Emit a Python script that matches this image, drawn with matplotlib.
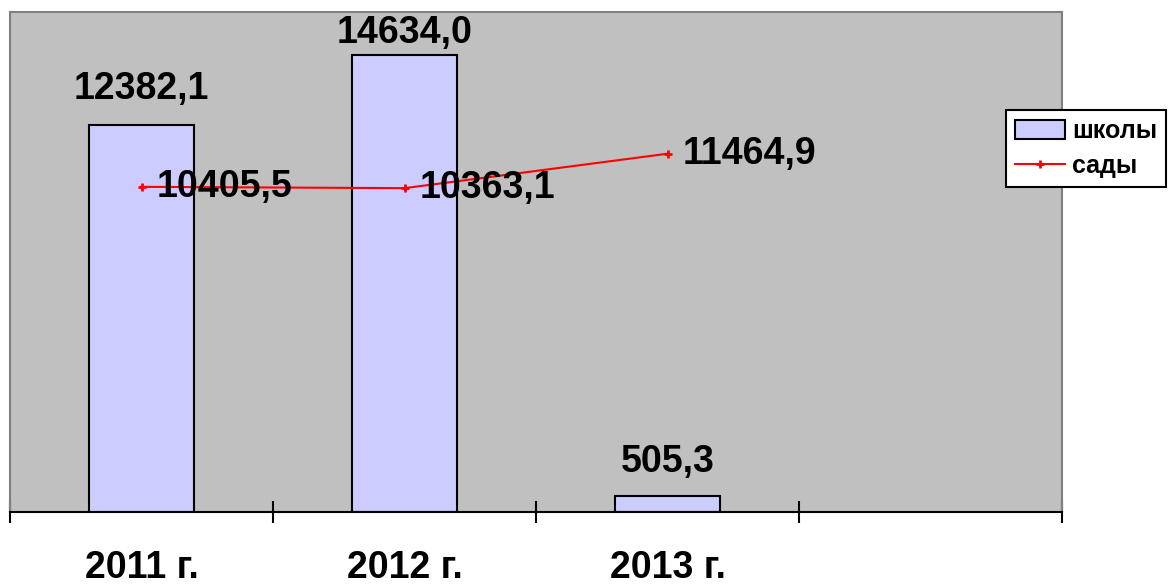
import matplotlib.pyplot as plt
from matplotlib.lines import Line2D
from matplotlib.patches import Patch

# data
years = ['2011 г.', '2012 г.', '2013 г.']
schools = [12382.1, 14634.0, 505.3]
kindergartens = [10405.5, 10363.1, 11464.9]
series_names = ['школы', 'сады']

plt.rcParams['font.family'] = ['Liberation Sans', 'DejaVu Sans']
plt.rcParams['font.weight'] = 'bold'

fig = plt.figure(figsize=(11.69, 5.84), dpi=100)
ax = fig.add_axes([10/1169, 72/584, 1052/1169, 500/584])
ax.set_facecolor('#C0C0C0')

x = list(range(len(years)))
ax.bar(x, schools, width=0.4, color='#CCCCFF', edgecolor='black', linewidth=1.5, zorder=2)
ax.plot(x, kindergartens, color='red', linewidth=1.5, marker='+', markersize=6,
        markeredgewidth=2, zorder=3)

def fmt(v):
    return f'{v:.1f}'.replace('.', ',')

# bar labels (Excel keeps the tallest one inside the plot area)
bar_offsets = [26, 12, 24]
for xi, v, off in zip(x, schools, bar_offsets):
    ax.annotate(fmt(v), (xi, v), xytext=(0, off), textcoords='offset pixels',
                ha='center', va='baseline', fontsize=27, fontweight='bold', zorder=4)

for xi, v in zip(x, kindergartens):
    ax.annotate(fmt(v), (xi, v), xytext=(15, 0), textcoords='offset pixels',
                ha='left', va='center', fontsize=27, fontweight='bold', zorder=4)

ax.set_xlim(-0.5, 3.5)
ax.set_ylim(0, 16000)
ax.set_yticks([])

# category boundary ticks, labels at the centres
ax.set_xticks([-0.5, 0.5, 1.5, 2.5, 3.5])
ax.set_xticklabels([])
ax.tick_params(axis='x', which='major', direction='inout', length=16, width=1.5, color='black')
ax.set_xticks(x, minor=True)
ax.set_xticklabels(years, minor=True, fontsize=27, fontweight='bold')
ax.tick_params(axis='x', which='minor', length=0, pad=27)

for side in ['left', 'top', 'right']:
    ax.spines[side].set_color('#808080')
    ax.spines[side].set_linewidth(1.5)
ax.spines['bottom'].set_color('black')
ax.spines['bottom'].set_linewidth(1.5)

handles = [Patch(facecolor='#CCCCFF', edgecolor='black', linewidth=1.5),
           Line2D([], [], color='red', linewidth=1.5, marker='+', markersize=6, markeredgewidth=2)]
leg = fig.legend(handles, series_names, loc='upper left',
                 bbox_to_anchor=(1006/1169, 1 - 110/584), frameon=True, fancybox=False,
                 edgecolor='black', framealpha=1, prop={'size': 18, 'weight': 'bold'},
                 handlelength=2.0, handleheight=0.8, labelspacing=0.45, borderpad=0.35,
                 handletextpad=0.3, borderaxespad=0)
leg.get_frame().set_linewidth(1.5)

fig.savefig('out.png', dpi=100)
